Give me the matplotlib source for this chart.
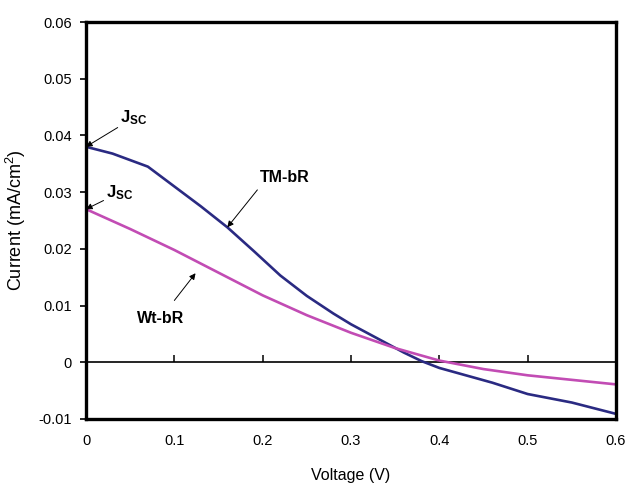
import matplotlib
matplotlib.use("Agg")
import matplotlib.pyplot as plt

plt.rcParams['font.family'] = ['Liberation Sans', 'DejaVu Sans']
plt.rcParams['mathtext.fontset'] = 'custom'
plt.rcParams['mathtext.rm'] = 'Liberation Sans'
plt.rcParams['mathtext.it'] = 'Liberation Sans'
plt.rcParams['mathtext.bf'] = 'Liberation Sans:bold'

# TM-bR curve
tm_v = [0, 0.03, 0.07, 0.1, 0.13, 0.16, 0.19, 0.22, 0.25, 0.28, 0.3, 0.33,
        0.36, 0.38, 0.4, 0.43, 0.46, 0.5, 0.55, 0.6]
tm_i = [0.038, 0.0368, 0.0345, 0.031, 0.0275, 0.0238, 0.0196, 0.0153, 0.0117,
        0.0086, 0.0067, 0.0042, 0.0017, 0.0002, -0.0010, -0.0023, -0.0036,
        -0.0056, -0.0071, -0.0091]

# Wt-bR curve
wt_v = [0, 0.05, 0.1, 0.15, 0.2, 0.25, 0.3, 0.35, 0.4, 0.45, 0.5, 0.55, 0.6]
wt_i = [0.027, 0.0235, 0.0198, 0.0158, 0.0118, 0.0083, 0.0052, 0.0025, 0.0003,
        -0.0012, -0.0023, -0.0031, -0.0039]

x_ticks = [0, 0.1, 0.2, 0.3, 0.4, 0.5, 0.6]
x_labels = ['0', '0.1', '0.2', '0.3', '0.4', '0.5', '0.6']
y_ticks = [-0.01, 0, 0.01, 0.02, 0.03, 0.04, 0.05, 0.06]
y_labels = ['-0.01', '0', '0.01', '0.02', '0.03', '0.04', '0.05', '0.06']

fig = plt.figure(figsize=(6.26, 4.86), dpi=100)
ax = fig.add_axes([0.1374, 0.1379, 0.8466, 0.8168])

ax.plot(tm_v, tm_i, color='#2a2a82', lw=1.9)
ax.plot(wt_v, wt_i, color='#c24cb4', lw=1.9)

ax.set_xlim(0, 0.6)
ax.set_ylim(-0.01, 0.06)
ax.set_xticks(x_ticks)
ax.set_xticklabels(x_labels)
ax.set_yticks(y_ticks)
ax.set_yticklabels(y_labels)
ax.tick_params(axis='x', length=0, pad=11, labelsize=10.5)
ax.tick_params(axis='y', direction='out', length=4, width=1.2, pad=6, labelsize=10.5)

for s in ax.spines.values():
    s.set_linewidth(2.4)

# zero line with ticks pointing up
sec = ax.secondary_xaxis(1 / 7)
sec.set_xticks(x_ticks)
sec.tick_params(direction='in', length=5, width=1.1, labelbottom=False)
sec.spines['bottom'].set_linewidth(1.2)

ax.set_xlabel('Voltage (V)', fontsize=11.5, labelpad=14)
ax.set_ylabel('Current (mA/cm$^2$)', fontsize=13, labelpad=8)

arrow = dict(arrowstyle='-|>', color='black', lw=0.7, mutation_scale=9,
             shrinkA=0, shrinkB=0)
ax.annotate(r'$\mathbf{J_{SC}}$', xy=(0.0, 0.038), xytext=(0.039, 0.0415),
            fontsize=12, arrowprops=arrow, va='bottom')
ax.annotate(r'$\mathbf{J_{SC}}$', xy=(0.0, 0.027), xytext=(0.023, 0.0283),
            fontsize=12, arrowprops=arrow, va='bottom')
ax.annotate('', xy=(0.16, 0.0238), xytext=(0.194, 0.0304), arrowprops=arrow)
ax.text(0.197, 0.0312, 'TM-bR', fontsize=11.5, fontweight='bold', va='bottom')
ax.annotate('', xy=(0.124, 0.0157), xytext=(0.1, 0.0109), arrowprops=arrow)
ax.text(0.058, 0.0064, 'Wt-bR', fontsize=11.5, fontweight='bold', va='bottom')

fig.savefig('out.png', dpi=100)
